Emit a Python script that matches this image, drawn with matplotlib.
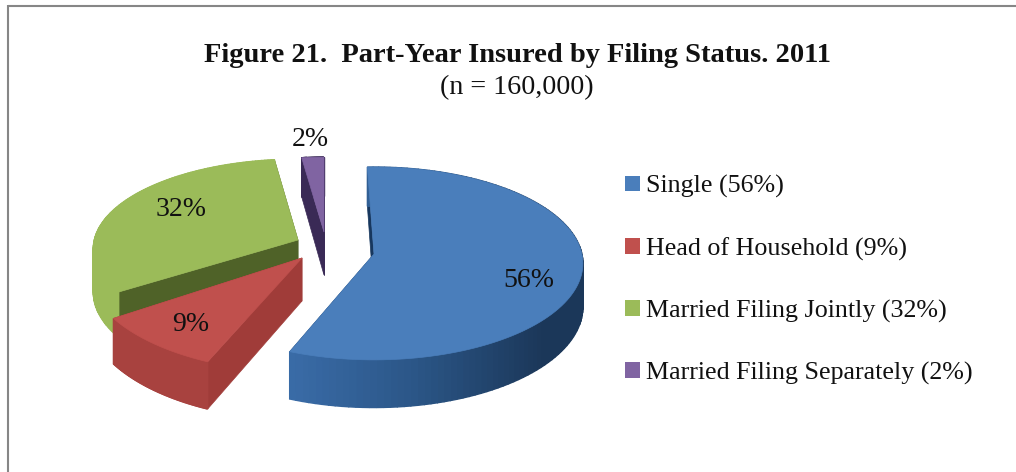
#!/usr/bin/env python3
# -*- coding: utf-8 -*-
"""Figure 21: exploded 3-D style pie, drawn in pixel-sized data coordinates."""
import numpy as np
import matplotlib
matplotlib.use("Agg")
import matplotlib.pyplot as plt
from matplotlib.patches import Patch

# data
categories = ["Single", "Head of Household", "Married Filing Jointly", "Married Filing Separately"]
shares = [56, 9, 32, 2]

title = "Figure 21.  Part-Year Insured by Filing Status. 2011"
subtitle = "(n = 160,000)"

# colours per slice: top surface, cut wall
top_colors = ["#4a7ebb", "#c0504d", "#9bbb59", "#8064a2"]
cut_colors = ["#17375e", "#a03c39", "#4f6228", "#3a2a56"]
# outer wall colour runs from the front left to the right
rim_colors = [("#3a6ca8", "#2b5687", "#1b3759"), ("#a8423f", "#a8423f", "#a8423f"),
              ("#9bbb59", "#9bbb59", "#9bbb59"), ("#3a2a56", "#3a2a56", "#3a2a56")]

# layout of every exploded slice (pixels): apex, stretch, label placement
apex_x = [374, 302, 298, 324]
apex_y = [254, 258, 240, 232]
stretch_x = [0.99, 1.02, 0.97, 0.92]
stretch_y = [1.0, 1.08, 0.93, 0.86]
turn = [-2, 0, 0, 0]
label_r = [0.745, 0.75, 0.655, 1.27]
label_dy = [14, 2, -7, 2]

RX, RY = 210, 95.5   # radius of the ellipse
PERSP = 0.098        # far edge smaller, near edge larger
DEPTH = 43           # height of the pie


def rim(a0, a1, i, n=120):
    """Points on the outer edge of slice i, angles clockwise from the top."""
    t = np.radians(np.linspace(a0, a1, n) + turn[i])
    s = 1 / (1 + PERSP * np.cos(t))
    x = apex_x[i] + RX * stretch_x[i] * np.sin(t) * s
    y = apex_y[i] - RY * stretch_y[i] * np.cos(t) * s
    return x, y, DEPTH * s


def mix(c0, c1, c2, u):
    rgb = [np.array(matplotlib.colors.to_rgb(c)) for c in (c0, c1, c2)]
    return rgb[0] + (rgb[1] - rgb[0]) * u * 2 if u < 0.5 else rgb[1] + (rgb[2] - rgb[1]) * (u - 0.5) * 2


plt.rcParams["font.family"] = ["Liberation Serif", "DejaVu Serif"]
fig = plt.figure(figsize=(10.16, 4.72), dpi=100)
ax = fig.add_axes([0, 0, 1, 1])
ax.set_xlim(0, 1016)
ax.set_ylim(472, 0)
ax.axis("off")

# frame: only the top and left sides show
ax.plot([8, 1016], [5.5, 5.5], color="#868686", lw=1.5, solid_capstyle="butt")
ax.plot([8, 8], [5, 472], color="#868686", lw=1.5, solid_capstyle="butt")

edges = np.cumsum([0] + shares) / sum(shares) * 360

for i in [3, 2, 1, 0]:
    a0, a1 = edges[i], edges[i + 1]
    x, y, d = rim(a0, a1, i)
    ax_, ay_ = apex_x[i], apex_y[i]

    # cut walls
    for px, py, pd in [(x[0], y[0], d[0]), (x[-1], y[-1], d[-1])]:
        ax.fill([ax_, px, px, ax_], [ay_, py, py + pd, ay_ + DEPTH],
                color=cut_colors[i], lw=0.5)

    # outer wall as narrow strips so the colour can change along it
    for k in range(len(x) - 1):
        u = np.clip((x[k] - x.min()) / max(x.max() - x.min(), 1) * 1.15, 0, 1)
        c = mix(*rim_colors[i], u)
        ax.fill([x[k], x[k + 1], x[k + 1], x[k]],
                [y[k], y[k + 1], y[k + 1] + d[k + 1], y[k] + d[k]],
                color=c, lw=1)

    # top surface
    ax.fill(np.r_[ax_, x], np.r_[ay_, y], color=top_colors[i], lw=0.5)

# percent labels
for i, share in enumerate(shares):
    mid = (edges[i] + edges[i + 1]) / 2 + turn[i]
    t = np.radians(mid)
    s = 1 / (1 + PERSP * np.cos(t))
    lx = apex_x[i] + RX * stretch_x[i] * np.sin(t) * s * label_r[i]
    ly = apex_y[i] - RY * stretch_y[i] * np.cos(t) * s * label_r[i] + label_dy[i]
    ax.text(lx, ly, f"{share}%", ha="center", va="center", fontsize=20, color="#111111")

ax.text(518, 55, title, ha="center", va="center", fontsize=20.5, fontweight="bold", color="#111111")
ax.text(517, 88, subtitle, ha="center", va="center", fontsize=20.2, color="#111111")

handles = [Patch(facecolor=c, edgecolor="none") for c in top_colors]
labels = [f"{c} ({s}%)" for c, s in zip(categories, shares)]
ax.legend(handles, labels, loc="upper left", bbox_to_anchor=(625 / 1016, 1 - 175 / 472),
          frameon=False, fontsize=18.75, labelcolor="#111111", borderpad=0, borderaxespad=0,
          handlelength=0.56, handleheight=0.56, handletextpad=0.25, labelspacing=1.5)

fig.savefig("out.png", dpi=100)
